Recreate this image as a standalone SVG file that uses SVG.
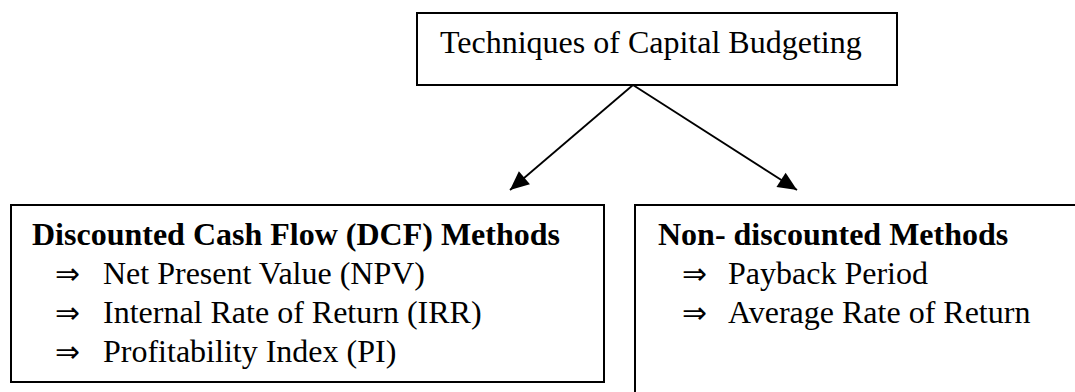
<svg xmlns="http://www.w3.org/2000/svg" width="1075" height="392" viewBox="0 0 1075 392">
<style>
.box{fill:#fff;stroke:#000;stroke-width:2}
.t{font-family:"Liberation Serif","Times New Roman",serif;font-size:32px;fill:#000}
.b{font-weight:bold}
.ar{font-family:"DejaVu Sans","Liberation Serif",sans-serif;font-size:30px;fill:#000}
.c{stroke:#000;stroke-width:1.8;fill:none}
</style>
<defs>
<marker id="ah" viewBox="0 0 10 10" refX="10" refY="5" markerWidth="10" markerHeight="10" markerUnits="userSpaceOnUse" orient="auto" style="overflow:visible">
<path d="M0,0 L10,5 L0,10 Z" fill="#000" transform="scale(1.9 1.7) translate(-4.7 -2.06)"/>
</marker>
</defs>
<rect width="1075" height="392" fill="#fff"/>
<g id="root">
<rect class="box" x="417" y="13" width="480" height="72"/>
<text class="t" x="440" y="53">Techniques of Capital Budgeting</text>
</g>
<g id="dcf">
<rect class="box" x="11" y="205" width="593" height="177"/>
<text class="t b" x="32" y="245">Discounted Cash Flow (DCF) Methods</text>
<text class="ar" x="55" y="284" textLength="25" lengthAdjust="spacingAndGlyphs">⇒</text>
<text class="t" x="103" y="284">Net Present Value (NPV)</text>
<text class="ar" x="55" y="323" textLength="25" lengthAdjust="spacingAndGlyphs">⇒</text>
<text class="t" x="103" y="323">Internal Rate of Return (IRR)</text>
<text class="ar" x="55" y="362" textLength="25" lengthAdjust="spacingAndGlyphs">⇒</text>
<text class="t" x="103" y="362">Profitability Index (PI)</text>
</g>
<g id="nondcf">
<rect class="box" x="635" y="205" width="460" height="200"/>
<text class="t b" x="658" y="245">Non- discounted Methods</text>
<text class="ar" x="682" y="284" textLength="25" lengthAdjust="spacingAndGlyphs">⇒</text>
<text class="t" x="728" y="284">Payback Period</text>
<text class="ar" x="682" y="323" textLength="25" lengthAdjust="spacingAndGlyphs">⇒</text>
<text class="t" x="728" y="323">Average Rate of Return</text>
</g>
<g id="connectors">
<line class="c" x1="633" y1="85" x2="510" y2="190" marker-end="url(#ah)"/>
<line class="c" x1="633" y1="85" x2="797" y2="190" marker-end="url(#ah)"/>
</g>
</svg>
